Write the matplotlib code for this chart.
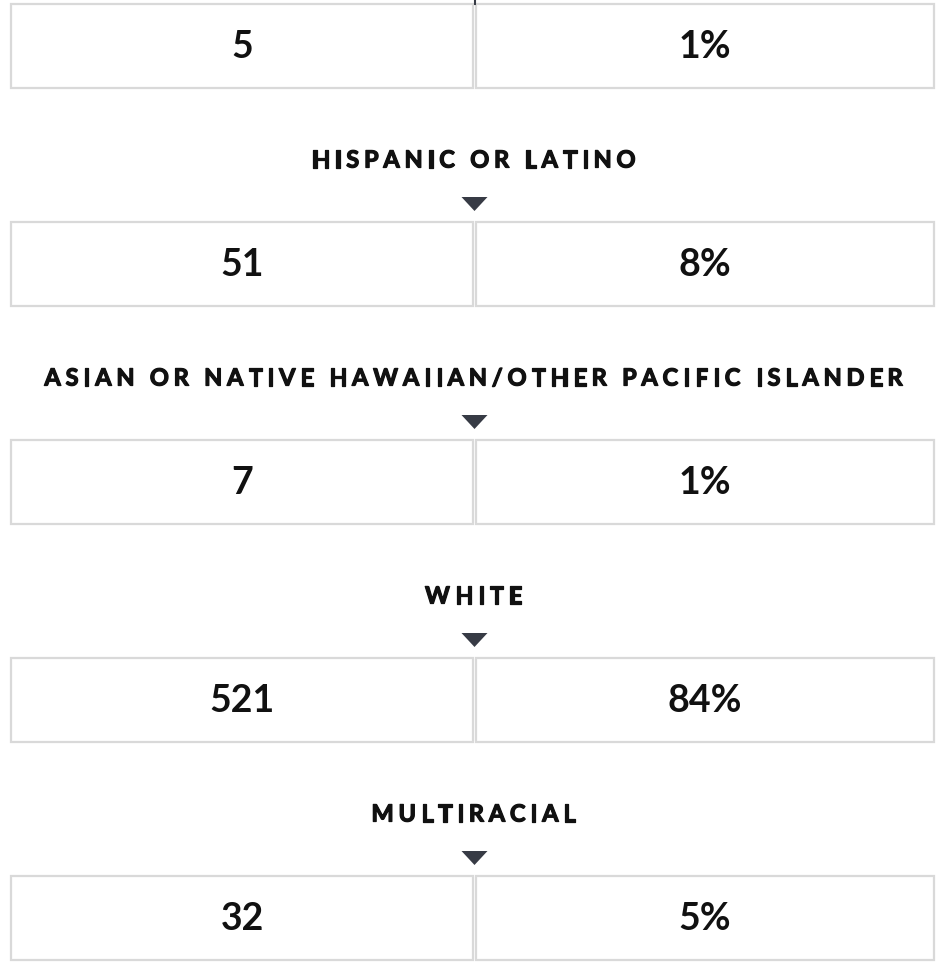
import matplotlib
matplotlib.use("Agg")
import matplotlib.pyplot as plt
from matplotlib.patches import Rectangle, Polygon
from matplotlib import font_manager as fm
import matplotlib.patheffects as pe

# ---- data ----
categories = ["", "HISPANIC OR LATINO",
              "ASIAN OR NATIVE HAWAIIAN/OTHER PACIFIC ISLANDER",
              "WHITE", "MULTIRACIAL"]
counts = [5, 51, 7, 521, 32]
percents = [1, 8, 1, 84, 5]

# ---- font / weight detection ----
font = "Lato"
lato_weights = [f.weight for f in fm.fontManager.ttflist if f.name == "Lato"]
def _w(w):
    if isinstance(w, int):
        return w
    return {"bold": 700, "heavy": 800, "black": 900}.get(str(w).lower(), 400)
has_bold = any(_w(w) >= 700 for w in lato_weights)
weight = "bold" if has_bold else "normal"
txt = "#111111"
num_stroke = [] if has_bold else [pe.withStroke(linewidth=1.3, foreground=txt)]
lab_stroke = [pe.withStroke(linewidth=0.9 if has_bold else 1.6, foreground=txt)]

# ---- layout (pixels) ----
W, H = 945, 964
fig = plt.figure(figsize=(W / 100, H / 100), dpi=100)
ax = fig.add_axes([0, 0, 1, 1])
ax.set_xlim(0, W)
ax.set_ylim(H, 0)
ax.axis("off")
renderer = fig.canvas.get_renderer()

box_top0 = 4
step = 218
box_h = 84
left, mid_l, mid_r, right = 11, 473.2, 475.8, 934
xc_mid = 474.5
border = "#d9d9d9"
dark = "#373b45"


def spaced_text(s, xc, y, size, spacing):
    """Draw text centred at xc with extra letter spacing (pixels)."""
    objs = []
    widths = []
    for ch in s:
        t = ax.text(0, y, ch, ha="left", va="center", fontsize=size,
                    fontweight=weight, family=font, color=txt,
                    path_effects=lab_stroke)
        objs.append(t)
        if ch == " ":
            tmp = ax.text(0, y, "n n", fontsize=size, family=font,
                          fontweight=weight)
            tmp2 = ax.text(0, y, "nn", fontsize=size, family=font,
                           fontweight=weight)
            wd = (tmp.get_window_extent(renderer).width
                  - tmp2.get_window_extent(renderer).width)
            tmp.remove(); tmp2.remove()
        else:
            wd = t.get_window_extent(renderer).width
        widths.append(wd)
    total = sum(widths) + spacing * (len(s) - 1)
    x = xc - total / 2
    for t, wd in zip(objs, widths):
        t.set_x(x)
        x += wd + spacing


for i, (cat, c, p) in enumerate(zip(categories, counts, percents)):
    top = box_top0 + i * step
    ax.add_patch(Rectangle((left, top), mid_l - left, box_h, fill=False,
                           edgecolor=border, linewidth=1.6))
    ax.add_patch(Rectangle((mid_r, top), right - mid_r, box_h, fill=False,
                           edgecolor=border, linewidth=1.6))
    cy = top + box_h / 2 + 1
    ax.text((left + mid_l) / 2, cy, f"{c}", ha="center", va="center",
            fontsize=27, fontweight=weight, family=font, color=txt,
            path_effects=num_stroke)
    ax.text((mid_r + right) / 2, cy, f"{p}%", ha="center", va="center",
            fontsize=27, fontweight=weight, family=font, color=txt,
            path_effects=num_stroke)
    if cat:
        spaced_text(cat, xc_mid - 1, top - 62, 17, 4.8)
        ty = top - 18
        ax.add_patch(Polygon([(xc_mid - 13, ty - 7), (xc_mid + 13, ty - 7),
                              (xc_mid, ty + 7)], closed=True,
                             facecolor=dark, edgecolor="none"))

# small connector stub at the very top
ax.plot([xc_mid, xc_mid], [0, box_top0], color=dark, linewidth=1.5)

fig.savefig("out.png", dpi=100)
